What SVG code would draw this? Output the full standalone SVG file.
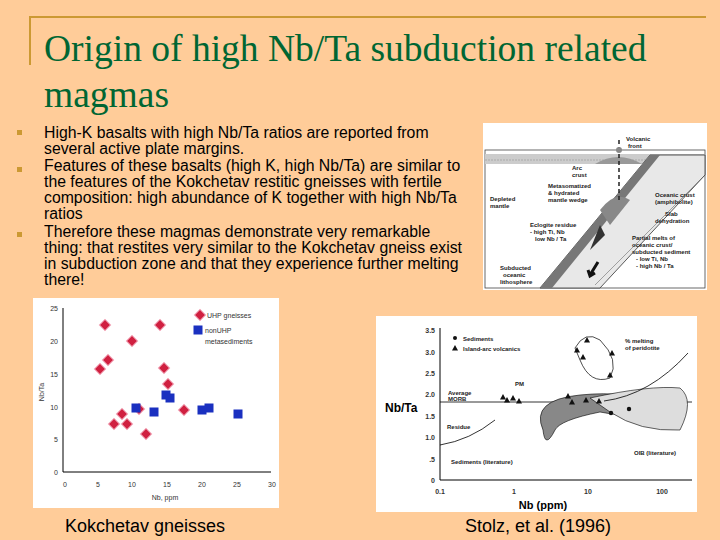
<svg xmlns="http://www.w3.org/2000/svg" width="720" height="540" viewBox="0 0 720 540">
<defs>
<style>
.t{font-family:"Liberation Sans",Arial,sans-serif}
.b{font-family:"Liberation Sans",Arial,sans-serif;font-size:15.8px;fill:#000}
.s{font-family:"Liberation Sans",Arial,sans-serif;font-size:7px;fill:#333}
.f{font-family:"Liberation Sans",Arial,sans-serif;font-size:6px;font-weight:bold;fill:#222}
.ax{stroke:#000;stroke-width:1;fill:none}
</style>
<g id="dia"><rect x="-4" y="-4" width="8" height="8" transform="rotate(45)" fill="#d02040" stroke="#f4b0c0" stroke-width="1"/></g>
<g id="sq"><rect x="-4.5" y="-4.5" width="9" height="9" fill="#1a30c0"/></g>
<g id="tri"><path d="M0,-3 L3,2.5 L-3,2.5Z" fill="#111"/></g>
</defs>
<rect width="720" height="540" fill="#ffcc99"/>
<path d="M30,65 V17 H706" stroke="#cc9933" stroke-width="2" fill="none"/>
<g id="title" font-family="Liberation Serif,serif" font-size="37.5" fill="#006633">
<text x="44" y="61">Origin of high Nb/Ta subduction related</text>
<text x="44" y="107">magmas</text>
</g>
<g id="bullets">
<rect x="17" y="130" width="5" height="5" fill="#cc9933"/>
<rect x="17" y="167" width="5" height="5" fill="#cc9933"/>
<rect x="17" y="232" width="5" height="5" fill="#cc9933"/>
<text class="b" x="44" y="138">High-K basalts with high Nb/Ta ratios are reported from</text>
<text class="b" x="44" y="154">several active plate margins.</text>
<text class="b" x="44" y="171">Features of these basalts (high K, high Nb/Ta) are similar to</text>
<text class="b" x="44" y="187">the features of the Kokchetav restitic gneisses with fertile</text>
<text class="b" x="44" y="203">composition: high abundance of K together with high Nb/Ta</text>
<text class="b" x="44" y="219">ratios</text>
<text class="b" x="44" y="237">Therefore these magmas demonstrate very remarkable</text>
<text class="b" x="44" y="253">thing: that restites very similar to the Kokchetav gneiss exist</text>
<text class="b" x="44" y="269">in subduction zone and that they experience further melting</text>
<text class="b" x="44" y="285">there!</text>
</g>
<g id="subduction">
<rect x="483" y="123" width="224" height="167" fill="#fff"/>
<rect x="485" y="150" width="220" height="138" fill="none" stroke="#444" stroke-width="0.8"/>
<rect x="485" y="154" width="220" height="10" fill="#ccc"/>
<path d="M485,160 H705" stroke="#888" stroke-width="0.5" stroke-dasharray="2,1"/>
<path d="M540,288 L650,155 L705,155 L705,175 L600,288Z" fill="#e8e8e8" stroke="#333" stroke-width="0.8"/>
<path d="M540,288 L650,155 L660,155 L552,288Z" fill="#777"/>
<path d="M595,285 L705,175" stroke="#555" stroke-width="0.5"/>
<path d="M595,164 Q618,150 642,164Z" fill="#999"/>
<path d="M600,210 Q615,190 630,200 L610,225Z" fill="#888"/>
<path d="M590,250 L600,225 L605,235Z" fill="#333"/>
<path d="M598,262 L590,275 M588,270 L590,276 L595,273" stroke="#111" stroke-width="3" fill="none"/>
<path d="M619,140 L619,200" stroke="#222" stroke-width="1.5" stroke-dasharray="4,3"/>
<circle cx="619" cy="150" r="3" fill="#888"/>
<text class="f" x="626" y="141">Volcanic</text><text class="f" x="628" y="148">front</text>
<text class="f" x="572" y="170">Arc</text><text class="f" x="572" y="177">crust</text>
<text class="f" x="548" y="188">Metasomatized</text><text class="f" x="548" y="195">&amp; hydrated</text><text class="f" x="548" y="202">mantle wedge</text>
<text class="f" x="490" y="201">Depleted</text><text class="f" x="490" y="208">mantle</text>
<text class="f" x="655" y="197">Oceanic crust</text><text class="f" x="655" y="204">(amphibolite)</text>
<text class="f" x="665" y="216">Slab</text><text class="f" x="655" y="223">dehydration</text>
<text class="f" x="530" y="227">Eclogite residue</text><text class="f" x="530" y="234">- high Ti, Nb</text><text class="f" x="535" y="241">low Nb / Ta</text>
<text class="f" x="632" y="240">Partial melts of</text><text class="f" x="632" y="247">oceanic crust/</text><text class="f" x="632" y="254">subducted sediment</text><text class="f" x="636" y="261">- low Ti, Nb</text><text class="f" x="636" y="268">- high Nb / Ta</text>
<text class="f" x="500" y="270">Subducted</text><text class="f" x="503" y="277">oceanic</text><text class="f" x="500" y="284">lithosphere</text>
</g>
<g id="scatter">
<rect x="33" y="298" width="246" height="210" fill="#fff"/>
<path class="ax" d="M63,308 V472 H271"/>
<g class="s" text-anchor="end">
<text x="58" y="311">25</text><text x="58" y="344">20</text><text x="58" y="377">15</text><text x="58" y="410">10</text><text x="58" y="442">5</text><text x="58" y="475">0</text>
</g>
<g class="s" text-anchor="middle">
<text x="65" y="487">0</text><text x="98" y="487">5</text><text x="132" y="487">10</text><text x="167" y="487">15</text><text x="202" y="487">20</text><text x="237" y="487">25</text><text x="272" y="487">30</text>
<text x="165" y="500">Nb, ppm</text>
</g>
<text class="s" transform="translate(44,392) rotate(-90)" text-anchor="middle">Nb/Ta</text>
<g>
<use href="#dia" x="105" y="325"/><use href="#dia" x="160" y="325"/><use href="#dia" x="132" y="341"/><use href="#dia" x="108" y="360"/><use href="#dia" x="100" y="369"/><use href="#dia" x="164" y="368"/><use href="#dia" x="168" y="384"/><use href="#dia" x="122" y="414"/><use href="#dia" x="114" y="424"/><use href="#dia" x="127" y="424"/><use href="#dia" x="139" y="409"/><use href="#dia" x="184" y="410"/><use href="#dia" x="146" y="434"/>
<use href="#sq" x="136" y="408"/><use href="#sq" x="154" y="412"/><use href="#sq" x="166" y="395"/><use href="#sq" x="170" y="398"/><use href="#sq" x="202" y="410"/><use href="#sq" x="209" y="408"/><use href="#sq" x="238" y="414"/>
<use href="#dia" x="200" y="315"/><text class="s" x="207" y="318">UHP gneisses</text>
<use href="#sq" x="198" y="330"/><text class="s" x="205" y="333">nonUHP</text><text class="s" x="205" y="344">metasediments</text>
</g>
</g>
<g id="nbta">
<rect x="376" y="316" width="321" height="196" fill="#fff"/>
<path class="ax" d="M440,328 V480 H692"/>
<g class="s" text-anchor="end" font-weight="bold">
<text x="435" y="333">3.5</text><text x="435" y="355">3.0</text><text x="435" y="376">2.5</text><text x="435" y="397">2.0</text><text x="435" y="419">1.5</text><text x="435" y="440">1.0</text><text x="435" y="462">.5</text><text x="435" y="483">0</text>
</g>
<g class="s" text-anchor="middle" font-weight="bold">
<text x="440" y="494">0.1</text><text x="514" y="494">1</text><text x="588" y="494">10</text><text x="662" y="494">100</text>
</g>
<text class="t" x="543" y="509" font-size="11" font-weight="bold" text-anchor="middle">Nb (ppm)</text>
<text class="t" x="385" y="412" font-size="12" font-weight="bold">Nb/Ta</text>
<path d="M440,402 H692" stroke="#000" stroke-width="0.8"/>
<path d="M543,430 Q530,400 580,395 Q630,390 655,405 Q640,420 600,412 Q560,420 555,430 Q545,450 543,430Z" fill="#888" stroke="#000" stroke-width="0.6"/>
<path d="M590,398 Q650,385 680,388 Q695,400 680,430 Q640,432 610,412Z" fill="#ddd" stroke="#000" stroke-width="0.6"/>
<path d="M575,348 Q585,330 600,340 Q620,360 610,378 Q590,385 580,360Z" fill="none" stroke="#000" stroke-width="0.7"/>
<path d="M604,401 Q650,395 688,353" fill="none" stroke="#000" stroke-width="0.8"/>
<path d="M440,445 Q470,440 495,420" fill="none" stroke="#000" stroke-width="0.8"/>
<g fill="#111"><circle cx="611" cy="413" r="2.2"/><circle cx="629" cy="409" r="2.2"/></g>
<use href="#tri" x="568" y="396"/><use href="#tri" x="572" y="402"/><use href="#tri" x="586" y="400"/><use href="#tri" x="599" y="401"/><use href="#tri" x="503" y="397"/><use href="#tri" x="507" y="400"/><use href="#tri" x="513" y="398"/><use href="#tri" x="519" y="401"/>
<use href="#tri" x="587" y="340"/><use href="#tri" x="577" y="350"/><use href="#tri" x="583" y="357"/><use href="#tri" x="612" y="353"/><use href="#tri" x="610" y="375"/>
<circle cx="455" cy="338" r="2" fill="#111"/><text class="f" x="463" y="341">Sediments</text>
<use href="#tri" x="455" y="348"/><text class="f" x="463" y="351">Island-arc volcanics</text>
<text class="f" x="625" y="343">% melting</text><text class="f" x="625" y="350">of peridotite</text>
<text class="f" x="448" y="395">Average</text><text class="f" x="448" y="401">MORB</text>
<text class="f" x="515" y="386">PM</text>
<text class="f" x="447" y="429">Residue</text>
<text class="f" x="451" y="464">Sediments (literature)</text>
<text class="f" x="634" y="455">OIB (literature)</text>
</g>
<text class="t" x="65" y="532" font-size="18">Kokchetav gneisses</text>
<text class="t" x="465" y="532" font-size="18">Stolz, et al. (1996)</text>
</svg>
